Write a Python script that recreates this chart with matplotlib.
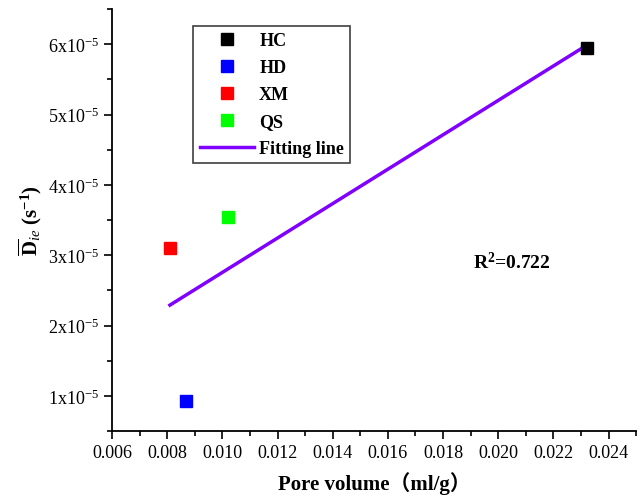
import numpy as np
import matplotlib
matplotlib.use("Agg")
import matplotlib.pyplot as plt
from matplotlib.ticker import FuncFormatter, MultipleLocator

plt.rcParams["font.family"] = ["Liberation Serif", "Noto Sans CJK SC"]
plt.rcParams["mathtext.fontset"] = "custom"
plt.rcParams["mathtext.rm"] = "Liberation Serif"
plt.rcParams["mathtext.it"] = "Liberation Serif:italic"
plt.rcParams["mathtext.bf"] = "Liberation Serif:bold"

sites = ["HC", "HD", "XM", "QS"]
colors = ["#000000", "#0000ff", "#ff0000", "#00ff00"]
pore_volume = [0.0232, 0.0087, 0.0081, 0.0102]     # ml/g
d_ie = [5.94e-5, 0.925e-5, 3.10e-5, 3.55e-5]       # s^-1

x = np.array(pore_volume)
y = np.array(d_ie)
k, b = np.polyfit(x, y, 1)
r2 = np.corrcoef(x, y)[0, 1] ** 2
xf = np.array([x.min(), x.max()])

fig = plt.figure(figsize=(6.4, 5.02), dpi=100)
ax = fig.add_axes([0.175, 0.1394, 0.819, 0.8406])

for s, c, px, py in zip(sites, colors, pore_volume, d_ie):
    ax.plot(px, py, "s", color=c, ms=8.5, mec=c, label=s, zorder=3)
ax.plot(xf, k * xf + b, color="#8000ff", lw=2.5, label="Fitting line", zorder=2)

ax.text(0.0191, 2.91e-5, r"R$^{\mathbf{2}}$=0.722", fontsize=14, fontweight="bold",
        va="center", ha="left")

ax.set_xlim(0.006, 0.025)
ax.set_ylim(0.5e-5, 6.5e-5)
ax.xaxis.set_major_locator(MultipleLocator(0.002))
ax.xaxis.set_minor_locator(MultipleLocator(0.001))
ax.yaxis.set_major_locator(MultipleLocator(1e-5))
ax.yaxis.set_minor_locator(MultipleLocator(0.5e-5))
ax.xaxis.set_major_formatter(FuncFormatter(lambda v, p: f"{v:.3f}"))
ax.yaxis.set_major_formatter(FuncFormatter(lambda v, p: f"{round(v * 1e5):d}x10$^{{-5}}$"))
ax.tick_params(which="both", direction="out", labelsize=13, width=1.2)
ax.tick_params(which="major", length=6)
ax.tick_params(which="minor", length=3.5)
for sp in ["top", "right"]:
    ax.spines[sp].set_visible(False)
for sp in ["left", "bottom"]:
    ax.spines[sp].set_linewidth(1.3)

ax.set_xlabel("Pore volume（ml/g）", fontsize=15, fontweight="bold", labelpad=7)
ax.set_ylabel(r"$\overline{\mathbf{D}}_{ie}$ (s$^{\mathbf{-1}}$)", fontsize=15,
              fontweight="bold", labelpad=3)

leg = ax.legend(loc="upper left", bbox_to_anchor=(0.155, 0.96), borderaxespad=0,
                fancybox=False, framealpha=1, edgecolor="#404040",
                prop={"weight": "bold", "size": 13}, handlelength=3.0,
                labelspacing=0.55, borderpad=0.35, handletextpad=0.3)
leg.get_frame().set_linewidth(1.2)

fig.savefig("out.png", dpi=100)
